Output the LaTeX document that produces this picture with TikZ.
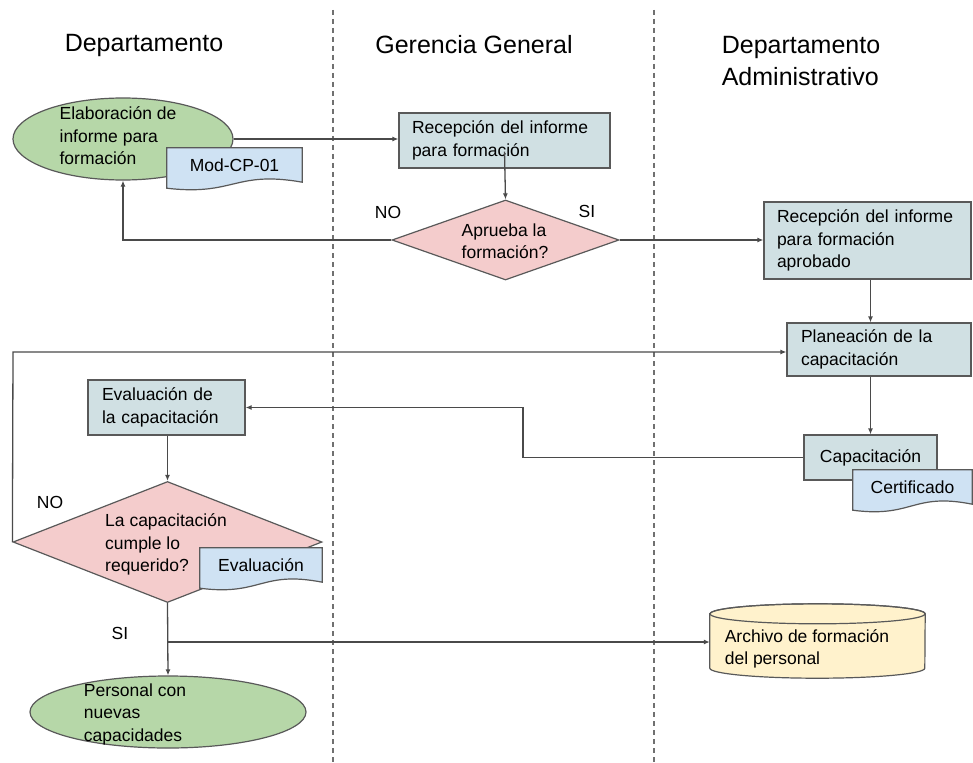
\documentclass[tikz,border=0pt]{standalone}
\usepackage{fontspec}
\setmainfont{Liberation Sans}
\usetikzlibrary{shapes.geometric,arrows.meta,calc}

\definecolor{linegray}{HTML}{4A4A4A}
\definecolor{edgegray}{HTML}{595959}
\definecolor{lanegray}{HTML}{707070}
\definecolor{termgreen}{HTML}{B6D7A8}
\definecolor{procblue}{HTML}{D0E0E3}
\definecolor{docblue}{HTML}{CFE2F3}
\definecolor{decpink}{HTML}{F4CCCC}
\definecolor{dbyellow}{HTML}{FFF2CC}

\tikzset{
  x=1pt, y=1pt,
  body/.style={font=\fontsize{17.5}{22.5}\selectfont},
  header/.style={font=\fontsize{25}{32}\selectfont, align=left, inner sep=0pt},
  lane/.style={draw=lanegray, line width=1.2pt, dash pattern=on 5pt off 4pt},
  flow/.style={draw=linegray, line width=1.3pt},
  arr/.style={flow, -{Latex[length=6pt,width=5pt]}},
  procbox/.style={body, draw=edgegray, line width=1.2pt, fill=procblue,
    rectangle, align=left, inner ysep=4pt},
  terminal/.style={draw=edgegray, line width=1.2pt, fill=termgreen,
    ellipse, inner sep=0pt},
  decision/.style={draw=edgegray, line width=1.2pt, fill=decpink,
    diamond, inner sep=0pt},
  shapetext/.style={body, align=left, inner sep=0pt},
  doctext/.style={body, rectangle, inner sep=0pt, align=center},
  docline/.style={draw=edgegray, line width=1.2pt, fill=docblue},
  flowlabel/.style={font=\fontsize{17.5}{20}\selectfont, inner sep=0pt},
}

% wavy-bottom document outline drawn behind a named text node
\newcommand{\docoutline}[1]{%
  \path[docline] (#1.north west) -- (#1.north east) -- (#1.south east)
    .. controls ($(#1.south east)!0.5!(#1.south west)+(0,12)$)
       and ($(#1.south east)!0.5!(#1.south west)+(0,-14)$)
    .. ([yshift=-6pt]#1.south west) -- cycle;
  \node[doctext] at (#1) {\csname doclabel#1\endcsname};
}

\begin{document}
\begin{tikzpicture}
\useasboundingbox (0,0) rectangle (973,-762);
\fill[white] (0,0) rectangle (973,-762);

% swimlane separators
\coordinate (laneAtop) at (333,-10);
\coordinate (laneAbot) at (333,-762);
\coordinate (laneBtop) at (654,-10);
\coordinate (laneBbot) at (654,-762);
\draw[lane] (laneAtop) -- (laneAbot);
\draw[lane] (laneBtop) -- (laneBbot);

% lane titles
\node[header] (hdep) at (144,-45) {Departamento};
\node[header] (hger) at (474,-45) {Gerencia General};
\node[header] (hadm) at (801,-61) {Departamento\\Administrativo};

% --- shapes ---
\node[terminal, minimum width=220, minimum height=82] (elab) at (123,-139) {};
\node[shapetext] (elabtxt) at (118,-136) {Elaboración de\\informe para\\formación};

\node[procbox, minimum width=211, minimum height=55, text width=185,
      inner xsep=13] (recep) at (504.5,-140.5) {Recepción del informe\\para formación};

\node[decision, minimum width=227, minimum height=80] (aprueba) at (505.5,-240) {};
\node[shapetext] (apruebatxt) at (505,-241) {Aprueba la\\formación?};

\node[procbox, minimum width=207, minimum height=77, text width=181,
      inner xsep=13] (recapr) at (867.5,-240.5) {Recepción del informe\\para formación\\aprobado};

\node[procbox, minimum width=184, minimum height=53, text width=156,
      inner xsep=14] (plan) at (879,-349.5) {Planeación de la\\capacitación};

\node[procbox, minimum width=133, minimum height=45, text width=111,
      inner xsep=11, align=center] (capac) at (870.5,-457.5) {Capacitación};

\node[procbox, minimum width=157, minimum height=55, text width=129,
      inner xsep=14] (evalc) at (166.5,-407.5) {Evaluación de\\la capacitación};

\node[decision, minimum width=309, minimum height=121] (cumple) at (167.5,-542) {};
\node[shapetext] (cumpletxt) at (166,-544.5) {La capacitación\\cumple lo\\requerido?};

\node[terminal, minimum width=276, minimum height=72] (personal) at (168,-712) {};
\node[shapetext] (personaltxt) at (135,-714) {Personal con\\nuevas\\capacidades};

% documents
\node[doctext, minimum width=135, minimum height=34] (mod) at (234.5,-165) {};
\expandafter\def\csname doclabelmod\endcsname{Mod-CP-01}
\docoutline{mod}

\node[doctext, minimum width=119, minimum height=34] (cert) at (912.5,-487) {};
\expandafter\def\csname doclabelcert\endcsname{Certificado}
\docoutline{cert}

\node[doctext, minimum width=122, minimum height=34] (evaldoc) at (261,-565) {};
\expandafter\def\csname doclabelevaldoc\endcsname{Evaluación}
\docoutline{evaldoc}

% archive (cylinder)
\node[minimum width=215, minimum height=54, inner sep=0pt] (arch) at (817.5,-641) {};
\path[draw=edgegray, line width=1.2pt, fill=dbyellow]
  (arch.north west) -- (arch.south west)
  arc[start angle=180, end angle=360, x radius=107.5, y radius=10]
  -- (arch.north east)
  arc[start angle=0, end angle=180, x radius=107.5, y radius=10] -- cycle;
\draw[edgegray, line width=1.2pt] (arch.north) ellipse[x radius=107.5, y radius=10];
\node[shapetext] (archtxt) at (807,-649) {Archivo de formación\\del personal};

% --- connectors ---
\draw[arr] (elab.east) -- (elab.east -| recep.west);
\draw[arr] ($(recep.south)+(0,17)$) -- (aprueba.north);
\draw[arr] (aprueba.west) -| (elab.south);
\draw[arr] (aprueba.east) -- (aprueba.east -| recapr.west);
\draw[arr] (recapr.south -| capac.north) -- (plan.north -| capac.north);
\draw[arr] (plan.south -| capac.north) -- (capac.north);
\coordinate (bendA) at (523,-457.5);
\draw[arr] (capac.west) -- (bendA) |- (evalc.east);
\draw[arr] (evalc.south -| cumple.north) -- (cumple.north);
\coordinate (loopTop) at (13,-352);
\draw[arr] (cumple.west) -- (loopTop) -- (loopTop -| plan.west);
\draw[arr] (cumple.south) -- (personal.north);
\coordinate (toArch) at (168,-642);
\draw[arr] (toArch) -- (toArch -| arch.west);

% branch labels
\node[flowlabel] (no1) at (388,-212) {NO};
\node[flowlabel] (si1) at (587,-211) {SI};
\node[flowlabel] (no2) at (50,-502) {NO};
\node[flowlabel] (si2) at (120,-633) {SI};
\end{tikzpicture}
\end{document}
